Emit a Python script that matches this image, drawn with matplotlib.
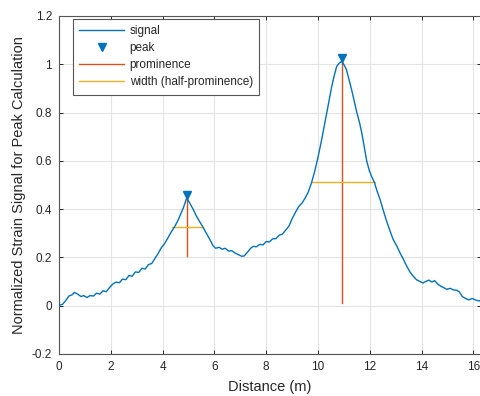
import matplotlib
matplotlib.use("Agg")
import matplotlib.pyplot as plt
import matplotlib.transforms as mtransforms

plt.rcParams["font.family"] = ["Liberation Sans", "DejaVu Sans"]

# Strain signal along the fibre
distance = [0.00, 0.13, 0.25, 0.38, 0.50, 0.60, 0.72, 0.85, 0.95, 1.08, 1.20, 1.33, 1.45,
            1.58, 1.70, 1.82, 1.95, 2.08, 2.20, 2.33, 2.45, 2.58, 2.70, 2.82, 2.95, 3.08,
            3.20, 3.33, 3.45, 3.58, 3.70, 3.82, 3.95, 4.08, 4.20, 4.33, 4.45, 4.58, 4.70,
            4.80, 4.93, 5.05, 5.19, 5.30, 5.45, 5.56, 5.70, 5.83, 5.95, 6.05, 6.18, 6.30,
            6.42, 6.55, 6.67, 6.80, 6.92, 7.05, 7.15, 7.28, 7.40, 7.50, 7.62, 7.75, 7.88,
            8.00, 8.12, 8.25, 8.38, 8.50, 8.62, 8.75, 8.88, 9.00, 9.12, 9.25, 9.38, 9.50,
            9.62, 9.75, 9.88, 10.00, 10.14, 10.25, 10.34, 10.45, 10.53, 10.62, 10.72, 10.82,
            10.92, 11.02, 11.10, 11.20, 11.30, 11.40, 11.50, 11.60, 11.69, 11.78, 11.88,
            11.98, 12.07, 12.18, 12.28, 12.40, 12.52, 12.65, 12.78, 12.90, 13.03, 13.17,
            13.30, 13.42, 13.55, 13.68, 13.80, 13.94, 14.05, 14.15, 14.28, 14.40, 14.50,
            14.62, 14.75, 14.87, 14.97, 15.10, 15.22, 15.35, 15.45, 15.57, 15.70, 15.82,
            15.95, 16.08, 16.20, 16.35]
signal = [0.003, 0.005, 0.020, 0.040, 0.045, 0.055, 0.048, 0.038, 0.042, 0.034, 0.042, 0.040,
          0.052, 0.048, 0.062, 0.058, 0.075, 0.090, 0.098, 0.095, 0.110, 0.108, 0.125, 0.122,
          0.140, 0.138, 0.155, 0.152, 0.170, 0.175, 0.195, 0.215, 0.240, 0.258, 0.280, 0.305,
          0.325, 0.350, 0.380, 0.405, 0.446, 0.425, 0.397, 0.372, 0.345, 0.325, 0.298, 0.273,
          0.248, 0.238, 0.242, 0.234, 0.238, 0.226, 0.228, 0.218, 0.212, 0.205, 0.206, 0.222,
          0.238, 0.246, 0.244, 0.254, 0.252, 0.266, 0.264, 0.277, 0.278, 0.292, 0.296, 0.313,
          0.330, 0.360, 0.385, 0.410, 0.425, 0.445, 0.470, 0.509, 0.560, 0.615, 0.687, 0.750,
          0.800, 0.862, 0.908, 0.950, 0.991, 1.005, 1.012, 0.995, 0.977, 0.935, 0.894, 0.848,
          0.800, 0.760, 0.716, 0.660, 0.600, 0.560, 0.535, 0.510, 0.475, 0.439, 0.395, 0.350,
          0.310, 0.275, 0.250, 0.218, 0.192, 0.165, 0.140, 0.122, 0.108, 0.100, 0.094, 0.100,
          0.106, 0.098, 0.104, 0.090, 0.080, 0.074, 0.068, 0.072, 0.066, 0.064, 0.058, 0.038,
          0.030, 0.024, 0.030, 0.024, 0.020, 0.022]

# Detected peaks
peak_x = [4.93, 10.92]
peak_y = [0.446, 1.012]
prominence = [0.242, 1.000]
width_left = [4.35, 9.75]
width_right = [5.57, 12.20]

blue = "#0072BD"
orange = "#D95319"
yellow = "#EDB120"
text_col = "#262626"

fig = plt.figure(figsize=(4.8, 3.96), dpi=100)
ax = fig.add_axes([59 / 480, 42 / 396, 422 / 480, 338 / 396])

ax.plot(distance, signal, color=blue, lw=1.0, label="signal", zorder=3)

# Triangle markers sit just above each peak
mark_off = mtransforms.offset_copy(ax.transData, fig=fig, x=0, y=3, units="dots")
ax.plot(peak_x, peak_y, linestyle="none", marker="v", markersize=6, color=blue,
        markeredgecolor=blue, transform=mark_off, label="peak", zorder=4)

for i in range(len(peak_x)):
    ax.plot([peak_x[i], peak_x[i]], [peak_y[i] - prominence[i], peak_y[i]],
            color=orange, lw=1.0, label="prominence" if i == 0 else None, zorder=2)
    half = peak_y[i] - prominence[i] / 2
    ax.plot([width_left[i], width_right[i]], [half, half], color=yellow, lw=1.0,
            label="width (half-prominence)" if i == 0 else None, zorder=2)

ax.set_xlim(0, 422 / 25.9)
ax.set_ylim(-0.2, 1.2)
ax.set_xticks(range(0, 17, 2))
ax.set_yticks([-0.2, 0, 0.2, 0.4, 0.6, 0.8, 1.0, 1.2])
ax.set_yticklabels(["-0.2", "0", "0.2", "0.4", "0.6", "0.8", "1", "1.2"])

ax.grid(True, color="#e3e3e3", lw=0.8)
ax.set_axisbelow(True)
ax.tick_params(direction="in", top=True, right=True, length=3, width=0.7,
               labelsize=8.5, colors=text_col, pad=5)
for s in ax.spines.values():
    s.set_color("#555555")
    s.set_linewidth(0.8)

ax.set_xlabel("Distance (m)", fontsize=10.5, color=text_col, labelpad=5)
ax.set_ylabel("Normalized Strain Signal for Peak Calculation", fontsize=10.5,
              color=text_col, labelpad=4)

leg = ax.legend(loc="upper left", bbox_to_anchor=(14 / 422, 1 - 3 / 338), fontsize=8.5,
                frameon=True, fancybox=False, edgecolor="#555555", framealpha=1,
                handlelength=3.8, borderpad=0.55, labelspacing=0.42, handletextpad=0.45,
                borderaxespad=0)
leg.get_frame().set_linewidth(0.8)
for t in leg.get_texts():
    t.set_color(text_col)

fig.savefig("out.png", dpi=100)
